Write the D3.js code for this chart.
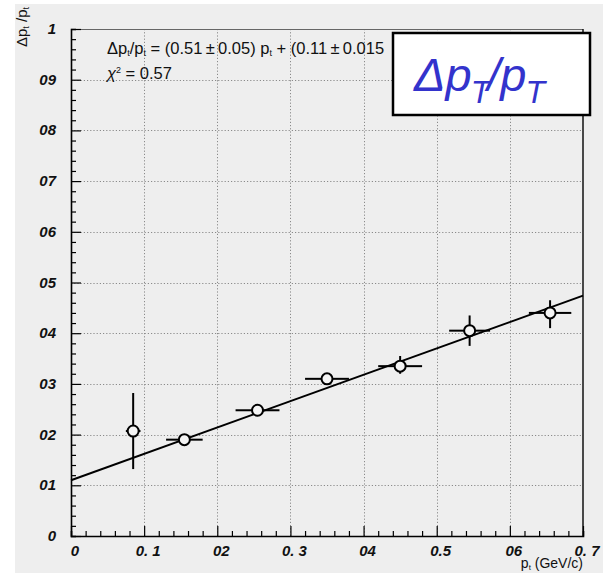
<!DOCTYPE html>
<html>
<head>
<meta charset="utf-8">
<script src="https://cdn.jsdelivr.net/npm/d3@7"></script>
<style>
  body { margin: 0; background: #fff; }
  svg { display: block; }
</style>
</head>
<body>
<svg id="chart" width="603" height="573"></svg>
<script>
// measured points (pt, dpt/pt) with errors
var ptValues   = [0.085, 0.155, 0.255, 0.350, 0.450, 0.545, 0.655];
var resValues  = [0.207, 0.190, 0.248, 0.310, 0.335, 0.405, 0.440];
var ptErrors   = [0.010, 0.025, 0.030, 0.030, 0.030, 0.028, 0.029];
var resErrLow  = [0.075, 0.004, 0.005, 0.008, 0.015, 0.030, 0.030];
var resErrHigh = [0.075, 0.004, 0.005, 0.008, 0.020, 0.030, 0.025];
var fitParams  = [0.52, 0.11]; // slope, intercept of drawn line
var xTickLabels = ["0", "0. 1", "02", "0. 3", "04", "0.5", "06", "0. 7"];
var yTickLabels = ["0", "01", "02", "03", "04", "05", "06", "07", "08", "09", "1"];

(function() {
  var svg = d3.select("#chart");
  var pLeft = 71, pRight = 583, pTop = 29, pBottom = 536;

  var x = d3.scaleLinear().domain([0, 0.7]).range([pLeft, pRight]);
  var y = d3.scaleLinear().domain([0, 1]).range([pBottom, pTop]);

  // pad background
  svg.append("rect").attr("x", 15).attr("y", 4).attr("width", 588).attr("height", 569)
    .attr("fill", "#eeeeee");

  var xMajor = d3.range(0, 8).map(function(i) { return i / 10; });
  var yMajor = d3.range(0, 11).map(function(i) { return i / 10; });
  var xMinor = d3.range(0, 36).map(function(i) { return i / 50; });
  var yMinor = d3.range(0, 51).map(function(i) { return i / 50; });
  function isMajor(d) { return Math.abs(d * 10 - Math.round(d * 10)) < 1e-6; }

  // grid
  var grid = svg.append("g").attr("stroke", "#8a8a8a").attr("stroke-width", 1)
    .attr("stroke-dasharray", "1.2,2");
  grid.selectAll(".gx").data(xMajor.slice(1, -1)).enter().append("line")
    .attr("x1", function(d) { return Math.round(x(d)) + 0.5; })
    .attr("x2", function(d) { return Math.round(x(d)) + 0.5; })
    .attr("y1", pTop).attr("y2", pBottom);
  grid.selectAll(".gy").data(yMajor.slice(1, -1)).enter().append("line")
    .attr("y1", function(d) { return Math.round(y(d)) + 0.5; })
    .attr("y2", function(d) { return Math.round(y(d)) + 0.5; })
    .attr("x1", pLeft).attr("x2", pRight);

  // frame
  svg.append("line").attr("x1", pLeft).attr("x2", pRight).attr("y1", pTop + 0.5).attr("y2", pTop + 0.5)
    .attr("stroke", "#666").attr("stroke-width", 1);
  svg.append("line").attr("x1", pRight).attr("x2", pRight).attr("y1", pTop).attr("y2", pBottom)
    .attr("stroke", "#111").attr("stroke-width", 1.5);

  // axes with ticks
  var gx = svg.append("g").attr("transform", "translate(0," + pBottom + ")")
    .call(d3.axisBottom(x).tickValues(xMinor).tickSize(-5).tickFormat(""));
  gx.selectAll(".tick line").attr("stroke-width", 1.2)
    .attr("y2", function(d) { return isMajor(d) ? -10 : -5; });
  gx.select(".domain").attr("stroke-width", 1.6);

  var gy = svg.append("g").attr("transform", "translate(" + pLeft + ",0)")
    .call(d3.axisLeft(y).tickValues(yMinor).tickSize(-5).tickFormat(""));
  gy.selectAll(".tick line").attr("stroke-width", 1.2)
    .attr("x2", function(d) { return isMajor(d) ? 10 : 5; });
  gy.select(".domain").attr("stroke-width", 1.6);

  // tick labels
  var labelFont = "'Liberation Sans', Arial, sans-serif";
  svg.append("g").selectAll("text").data(xMajor).enter().append("text")
    .attr("x", function(d) { return x(d) + 4; }).attr("y", 556)
    .attr("text-anchor", "middle")
    .attr("font-family", labelFont).attr("font-weight", "bold").attr("font-style", "italic")
    .attr("font-size", 15).attr("fill", "#111")
    .text(function(d, i) { return xTickLabels[i]; });

  svg.append("g").selectAll("text").data(yMajor).enter().append("text")
    .attr("x", 56).attr("y", function(d) { return y(d) + 5; })
    .attr("text-anchor", "end")
    .attr("font-family", labelFont).attr("font-weight", "bold").attr("font-style", "italic")
    .attr("font-size", 15).attr("fill", "#111")
    .text(function(d, i) { return yTickLabels[i]; });

  // axis titles
  var xt = svg.append("text").attr("x", pRight).attr("y", 568).attr("text-anchor", "end")
    .attr("font-family", labelFont).attr("font-size", 14).attr("fill", "#111");
  xt.append("tspan").text("p");
  xt.append("tspan").attr("font-size", 8).attr("dy", 2).text("t");
  xt.append("tspan").attr("dy", -2).text(" (GeV/c)");

  var yt = svg.append("text").attr("transform", "translate(27,7) rotate(-90)").attr("text-anchor", "end")
    .attr("font-family", labelFont).attr("font-size", 15).attr("fill", "#111");
  yt.append("tspan").text("Δp");
  yt.append("tspan").attr("font-size", 9).attr("dy", 2).text("t");
  yt.append("tspan").attr("dy", -2).text(" /p");
  yt.append("tspan").attr("font-size", 9).attr("dy", 2).text("t");

  // fit line
  var fitLine = d3.line().x(function(d) { return x(d); })
    .y(function(d) { return y(fitParams[0] * d + fitParams[1]); });
  svg.append("path").datum([0, 0.7]).attr("d", fitLine)
    .attr("fill", "none").attr("stroke", "#000").attr("stroke-width", 2);

  // data points with error bars
  var pts = ptValues.map(function(v, i) {
    return { x: v, y: resValues[i], ex: ptErrors[i], eyl: resErrLow[i], eyh: resErrHigh[i] };
  });
  var r = 5.5;
  var g = svg.append("g").attr("stroke", "#000").attr("stroke-width", 2);
  pts.forEach(function(p) {
    var cx = x(p.x), cy = y(p.y);
    if (x(p.x - p.ex) < cx - r) {
      g.append("line").attr("x1", x(p.x - p.ex)).attr("x2", cx - r).attr("y1", cy).attr("y2", cy);
      g.append("line").attr("x1", cx + r).attr("x2", x(p.x + p.ex)).attr("y1", cy).attr("y2", cy);
    }
    if (y(p.y + p.eyh) < cy - r) {
      g.append("line").attr("x1", cx).attr("x2", cx).attr("y1", y(p.y + p.eyh)).attr("y2", cy - r);
    }
    if (y(p.y - p.eyl) > cy + r) {
      g.append("line").attr("x1", cx).attr("x2", cx).attr("y1", cy + r).attr("y2", y(p.y - p.eyl));
    }
    g.append("circle").attr("cx", cx).attr("cy", cy).attr("r", r).attr("fill", "#f4f4f4");
  });

  // fit text
  var ft = svg.append("text").attr("x", 107).attr("y", 54)
    .attr("font-family", labelFont).attr("font-size", 16.5).attr("fill", "#111");
  ft.append("tspan").text("Δp");
  ft.append("tspan").attr("font-size", 9).attr("dy", 2).text("t");
  ft.append("tspan").attr("dy", -2).text("/p");
  ft.append("tspan").attr("font-size", 9).attr("dy", 2).text("t");
  ft.append("tspan").attr("dy", -2).text(" = (0.51\u2009\u00b1\u20090.05) p");
  ft.append("tspan").attr("font-size", 9).attr("dy", 2).text("t");
  ft.append("tspan").attr("dy", -2).text(" + (0.11\u2009\u00b1\u20090.015");

  var ct = svg.append("text").attr("x", 107).attr("y", 79)
    .attr("font-family", labelFont).attr("font-size", 16.5).attr("fill", "#111");
  ct.append("tspan").attr("font-style", "italic").text("χ");
  ct.append("tspan").attr("font-size", 9).attr("dy", -6).text("2");
  ct.append("tspan").attr("dy", 6).text(" = 0.57");

  // title box
  svg.append("rect").attr("x", 393).attr("y", 33).attr("width", 197).attr("height", 82)
    .attr("fill", "#fff").attr("stroke", "#000").attr("stroke-width", 2.5);
  var tt = svg.append("text").attr("x", 414).attr("y", 91)
    .attr("font-family", labelFont).attr("font-style", "italic").attr("font-size", 47)
    .attr("fill", "#3333cc");
  tt.append("tspan").text("Δp");
  tt.append("tspan").attr("font-size", 32).attr("dy", 12).attr("dx", -1).text("T");
  tt.append("tspan").attr("dy", -12).attr("dx", -3).text("/p");
  tt.append("tspan").attr("font-size", 32).attr("dy", 12).attr("dx", -1).text("T");
})();
</script>
</body>
</html>
